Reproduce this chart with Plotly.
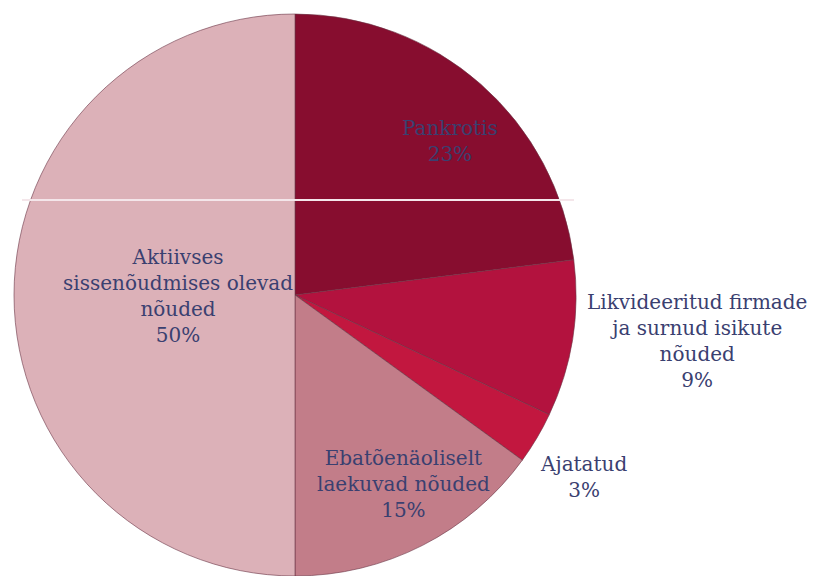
import plotly.graph_objects as go

labels = ["Pankrotis", "Likvideeritud firmade<br>ja surnud isikute<br>nõuded",
          "Ajatatud", "Ebatõenäoliselt<br>laekuvad nõuded",
          "Aktiivses<br>sissenõudmises olevad<br>nõuded"]
values = [23, 9, 3, 15, 50]
colors = ["#870d2f", "#b3123e", "#c2173f", "#c27d89", "#dcb1b8"]

# label anchor positions in pixels (layout only)
label_pos = [(450, 141), (697, 341), (583, 477), (403, 484), (178, 296)]

W, H = 818, 576
fig = go.Figure()
fig.add_trace(go.Pie(
    labels=labels, values=values, sort=False, direction="clockwise", rotation=0,
    marker=dict(colors=colors, line=dict(color="#6a3444", width=0.6)),
    textinfo="none", hoverinfo="label+percent", showlegend=False,
    domain=dict(x=[14 / W, 576 / W], y=[0, 562 / H]),
))

total = sum(values)
for lab, v, (px, py) in zip(labels, values, label_pos):
    fig.add_annotation(
        x=px / W, y=1 - py / H, xref="paper", yref="paper",
        text=f"{lab}<br>{round(100 * v / total)}%", showarrow=False,
        font=dict(family="DejaVu Serif", size=20, color="#3a4070"),
        align="center", xanchor="center", yanchor="middle",
    )

fig.add_shape(type="line", xref="paper", yref="paper",
              x0=22 / W, x1=574 / W, y0=1 - 200 / H, y1=1 - 200 / H,
              line=dict(color="#f4e6ea", width=2))

fig.update_layout(width=W, height=H, margin=dict(l=0, r=0, t=0, b=0),
                  paper_bgcolor="white", plot_bgcolor="white")
fig.write_html("out.html")
